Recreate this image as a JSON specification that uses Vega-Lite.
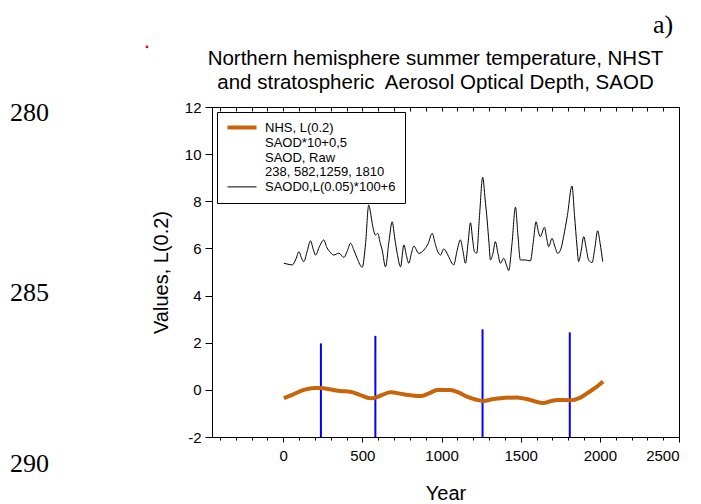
{
  "$schema": "https://vega.github.io/schema/vega-lite/v6.json",
  "autosize": {"type": "none"},
  "padding": {"left": 212, "top": 107, "right": 22, "bottom": 67},
  "width": 467,
  "height": 330,
  "background": "white",
  "config": {
    "font": "Liberation Sans",
    "view": {"stroke": "black", "strokeWidth": 1},
    "axis": {"domainColor": "black", "tickColor": "black", "labelColor": "black", "titleColor": "black", "grid": false, "labelFont": "Liberation Sans", "titleFont": "Liberation Sans", "titleFontWeight": "normal"},
    "legend": {
      "orient": "top-left", "offset": 5, "padding": 9, "strokeColor": "black", "fillColor": "white",
      "labelFont": "Liberation Sans", "labelFontSize": 13, "labelColor": "black", "labelLimit": 300,
      "symbolType": "M-1,0H4.8", "symbolSize": 100, "labelOffset": 26, "rowPadding": 0.6
    }
  },
  "title": {
    "text": ["Northern hemisphere summer temperature, NHST", "and stratospheric\u00a0 Aerosol Optical Depth, SAOD"],
    "fontSize": 20.5, "fontWeight": "normal", "font": "Liberation Sans", "color": "black",
    "lineHeight": 24, "anchor": "middle", "dx": -10, "dy": 93, "offset": 12
  },
  "resolve": {"axis": {"x": "independent", "y": "independent"}},
  "datasets": {
    "nhs": [
      {"year": 4, "v": -0.35}, {"year": 60, "v": -0.2}, {"year": 130, "v": 0.0}, {"year": 200, "v": 0.08},
      {"year": 238, "v": 0.08}, {"year": 290, "v": 0.03}, {"year": 362, "v": -0.05}, {"year": 424, "v": -0.08},
      {"year": 480, "v": -0.2}, {"year": 551, "v": -0.36}, {"year": 582, "v": -0.33}, {"year": 630, "v": -0.2},
      {"year": 677, "v": -0.1}, {"year": 760, "v": -0.19}, {"year": 867, "v": -0.26}, {"year": 920, "v": -0.15},
      {"year": 972, "v": -0.01}, {"year": 1056, "v": -0.01}, {"year": 1110, "v": -0.12}, {"year": 1161, "v": -0.29},
      {"year": 1220, "v": -0.42}, {"year": 1266, "v": -0.47}, {"year": 1320, "v": -0.4}, {"year": 1372, "v": -0.36},
      {"year": 1477, "v": -0.32}, {"year": 1561, "v": -0.43}, {"year": 1645, "v": -0.56}, {"year": 1690, "v": -0.48},
      {"year": 1730, "v": -0.43}, {"year": 1814, "v": -0.44}, {"year": 1870, "v": -0.35}, {"year": 1919, "v": -0.15},
      {"year": 1970, "v": 0.08}, {"year": 2020, "v": 0.36}
    ],
    "saod": [
      {"year": 4, "v": 5.37}, {"year": 30, "v": 5.33}, {"year": 57, "v": 5.3}, {"year": 80, "v": 5.55},
      {"year": 99, "v": 5.86}, {"year": 115, "v": 5.6}, {"year": 130, "v": 5.44}, {"year": 150, "v": 5.85},
      {"year": 172, "v": 6.32}, {"year": 190, "v": 5.95}, {"year": 204, "v": 5.72}, {"year": 230, "v": 6.1},
      {"year": 256, "v": 6.36}, {"year": 275, "v": 6.05}, {"year": 294, "v": 5.86}, {"year": 319, "v": 5.72},
      {"year": 351, "v": 5.8}, {"year": 383, "v": 5.62}, {"year": 405, "v": 5.9}, {"year": 425, "v": 6.22},
      {"year": 445, "v": 5.95}, {"year": 467, "v": 5.58}, {"year": 499, "v": 5.2}, {"year": 520, "v": 6.2},
      {"year": 540, "v": 7.84}, {"year": 552, "v": 7.5}, {"year": 562, "v": 7.07}, {"year": 583, "v": 6.57},
      {"year": 597, "v": 6.64}, {"year": 612, "v": 6.25}, {"year": 625, "v": 5.93}, {"year": 646, "v": 5.22},
      {"year": 668, "v": 6.3}, {"year": 688, "v": 7.13}, {"year": 705, "v": 6.4}, {"year": 720, "v": 5.79},
      {"year": 741, "v": 5.22}, {"year": 762, "v": 6.15}, {"year": 778, "v": 5.7}, {"year": 793, "v": 5.37},
      {"year": 810, "v": 5.8}, {"year": 825, "v": 6.1}, {"year": 856, "v": 5.79}, {"year": 888, "v": 5.93},
      {"year": 915, "v": 6.2}, {"year": 941, "v": 6.64}, {"year": 958, "v": 6.25}, {"year": 972, "v": 5.93},
      {"year": 993, "v": 5.72}, {"year": 1014, "v": 5.98}, {"year": 1030, "v": 5.85}, {"year": 1045, "v": 5.65},
      {"year": 1077, "v": 5.3}, {"year": 1098, "v": 5.9}, {"year": 1119, "v": 6.36}, {"year": 1135, "v": 5.9},
      {"year": 1151, "v": 5.37}, {"year": 1167, "v": 6.2}, {"year": 1183, "v": 7.09}, {"year": 1196, "v": 6.4},
      {"year": 1208, "v": 5.86}, {"year": 1222, "v": 5.8}, {"year": 1240, "v": 7.4}, {"year": 1260, "v": 9.02},
      {"year": 1275, "v": 8.1}, {"year": 1288, "v": 7.21}, {"year": 1300, "v": 6.2}, {"year": 1309, "v": 5.51},
      {"year": 1325, "v": 5.8}, {"year": 1340, "v": 6.29}, {"year": 1356, "v": 5.8}, {"year": 1372, "v": 5.37},
      {"year": 1393, "v": 5.58}, {"year": 1410, "v": 5.3}, {"year": 1424, "v": 5.06}, {"year": 1445, "v": 6.2},
      {"year": 1467, "v": 7.75}, {"year": 1482, "v": 6.6}, {"year": 1498, "v": 5.51}, {"year": 1530, "v": 5.51},
      {"year": 1561, "v": 5.47}, {"year": 1580, "v": 6.3}, {"year": 1597, "v": 7.13}, {"year": 1612, "v": 6.7},
      {"year": 1624, "v": 6.5}, {"year": 1650, "v": 6.9}, {"year": 1665, "v": 6.4}, {"year": 1677, "v": 6.07},
      {"year": 1698, "v": 6.43}, {"year": 1715, "v": 6.1}, {"year": 1734, "v": 5.79}, {"year": 1755, "v": 6.0},
      {"year": 1771, "v": 6.5}, {"year": 1795, "v": 7.4}, {"year": 1824, "v": 8.65}, {"year": 1840, "v": 7.4},
      {"year": 1856, "v": 6.07}, {"year": 1866, "v": 5.44}, {"year": 1882, "v": 5.9}, {"year": 1898, "v": 6.5},
      {"year": 1914, "v": 6.0}, {"year": 1929, "v": 5.51}, {"year": 1951, "v": 5.4}, {"year": 1968, "v": 6.0},
      {"year": 1986, "v": 6.75}, {"year": 2002, "v": 6.2}, {"year": 2018, "v": 5.44}
    ],
    "eruptions": [
      {"year": 238, "top": 1.97}, {"year": 582, "top": 2.29}, {"year": 1259, "top": 2.57}, {"year": 1810, "top": 2.44}
    ],
    "notes": [
      {"t": "280", "year": -1726, "v": 11.41},
      {"t": "285", "year": -1726, "v": 3.77},
      {"t": "290", "year": -1726, "v": -3.47},
      {"t": "a)", "year": 2336, "v": 15.13}
    ],
    "dot": [{"year": -861, "v": 14.55}]
  },
  "layer": [
    {
      "data": {"name": "eruptions"},
      "mark": {"type": "rule", "color": "#0000FF", "strokeWidth": 2},
      "encoding": {
        "x": {"field": "year", "type": "quantitative",
          "scale": {"domain": [-450, 2500], "nice": false, "zero": false},
          "axis": {"orient": "top", "values": [-400,-300,-200,-100,0,100,200,300,400,500,600,700,800,900,1000,1100,1200,1300,1400,1500,1600,1700,1800,1900,2000,2100,2200,2300,2400,2500],
            "labels": false, "title": null, "tickSize": -4, "domain": true}},
        "y": {"field": "top", "type": "quantitative",
          "scale": {"domain": [-2, 12], "nice": false, "zero": false},
          "axis": {"orient": "left", "values": [-2, 0, 2, 4, 6, 8, 10, 12], "labelExpr": "'' + datum.value",
            "tickSize": 7, "labelPadding": 4, "labelFontSize": 15,
            "title": "Values, L(0.2)", "titleFontSize": 20, "titleBaseline": "alphabetic", "titleX": -45}},
        "y2": {"datum": -2}
      }
    },
    {
      "data": {"name": "nhs"},
      "mark": {"type": "line", "strokeWidth": 4, "interpolate": "monotone"},
      "encoding": {
        "x": {"field": "year", "type": "quantitative",
          "axis": {"orient": "bottom", "values": [-400,-300,-200,-100,0,100,200,300,400,500,600,700,800,900,1000,1100,1200,1300,1400,1500,1600,1700,1800,1900,2000,2100,2200,2300,2400,2500],
            "labelExpr": "datum.value % 500 === 0 ? '' + datum.value : ''",
            "tickSize": {"condition": {"test": "datum.value % 500 === 0", "value": 5}, "value": 3},
            "labelFontSize": 15, "labelPadding": 6,
            "title": "Year", "titleFontSize": 20, "titleBaseline": "alphabetic", "titleY": 62}},
        "y": {"field": "v", "type": "quantitative", "axis": null},
        "color": {"datum": "NHS, L(0.2)", "type": "nominal",
          "scale": {"domain": ["NHS, L(0.2)", "SAOD*10+0,5", "SAOD, Raw", "238, 582,1259, 1810", "SAOD0,L(0.05)*100+6"],
            "range": ["#C8650A", "transparent", "transparent", "transparent", "black"]},
          "legend": {"title": null,
            "encode": {"symbols": {"update": {"strokeWidth": {"signal": "datum.value === 'NHS, L(0.2)' ? 4 : 1"}}}}}}
      }
    },
    {
      "data": {"name": "saod"},
      "mark": {"type": "line", "strokeWidth": 1, "interpolate": "monotone"},
      "encoding": {
        "x": {"field": "year", "type": "quantitative", "axis": null},
        "y": {"field": "v", "type": "quantitative", "axis": null},
        "color": {"datum": "SAOD0,L(0.05)*100+6", "type": "nominal"}
      }
    },
    {
      "data": {"name": "notes"},
      "mark": {"type": "text", "align": "left", "baseline": "alphabetic", "font": "Liberation Serif", "fontSize": 26, "color": "black"},
      "encoding": {
        "x": {"field": "year", "type": "quantitative", "axis": null},
        "y": {"field": "v", "type": "quantitative", "axis": null},
        "text": {"field": "t"}
      }
    },
    {
      "data": {"name": "dot"},
      "mark": {"type": "point", "filled": true, "size": 8, "color": "#d01010", "opacity": 1},
      "encoding": {
        "x": {"field": "year", "type": "quantitative", "axis": null},
        "y": {"field": "v", "type": "quantitative", "axis": null}
      }
    }
  ]
}
